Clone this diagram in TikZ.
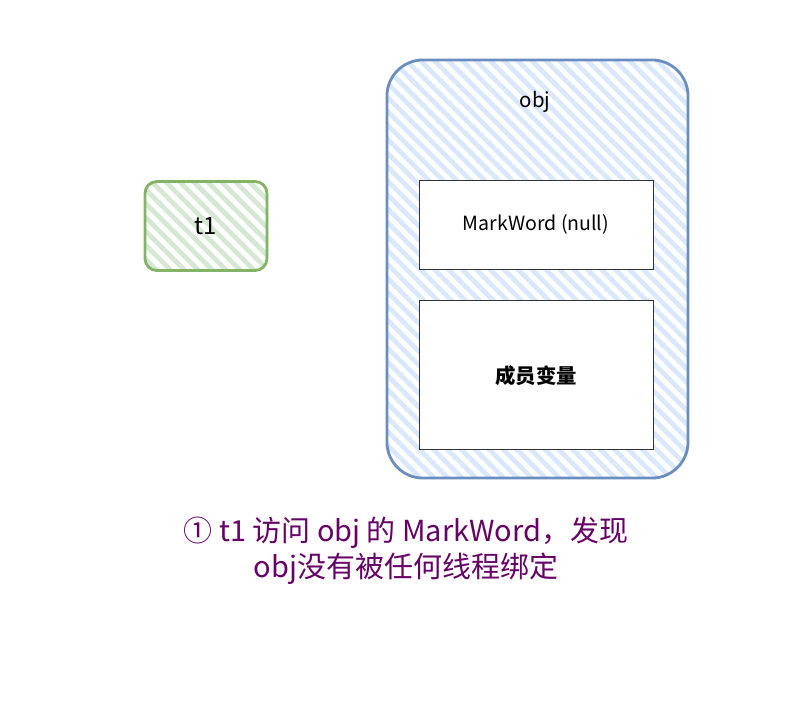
\documentclass[tikz,border=0pt]{standalone}
\usepackage{fontspec}
\setmainfont{Noto Sans CJK SC}
\usetikzlibrary{positioning,patterns.meta}

\definecolor{thgreen}{HTML}{82B366}
\definecolor{thgreenfill}{HTML}{D5E8D4}
\definecolor{objblue}{HTML}{6C8EBF}
\definecolor{objbluefill}{HTML}{DAE8FC}
\definecolor{notepurple}{HTML}{660066}

\begin{document}
\begin{tikzpicture}[
    x=0.025cm, y=-0.025cm,
    thread/.style={draw=thgreen, line width=2pt, rounded corners=0.3cm,
      pattern={Lines[angle=-45, distance=7pt, line width=3.4pt]}, pattern color=thgreenfill,
      minimum width=3.05cm, minimum height=2.225cm, font=\fontsize{17}{20}\selectfont},
    object/.style={draw=objblue, line width=2pt, rounded corners=0.9cm,
      pattern={Lines[angle=-45, distance=7pt, line width=3.4pt]}, pattern color=objbluefill,
      minimum width=7.525cm, minimum height=10.45cm},
    field/.style={draw=black!80, fill=white, line width=0.6pt, minimum width=5.85cm},
    note/.style={text=notepurple, align=center, font=\fontsize{20.6}{25.5}\selectfont}
  ]
    \useasboundingbox (0,0) rectangle (812,712);

    \node[thread] (t1) at (206,226) {t1};

    \node[object] (obj) at (537.5,269) {};
    \node[font=\fontsize{14.5}{17}\selectfont] (objname) at (535,102) {obj};

    \node[field, minimum height=2.225cm, font=\fontsize{13.9}{16}\selectfont] (mark) at (536,224.5) {\raisebox{-2pt}{MarkWord (null)}};
    \node[field, minimum height=3.725cm, font=\fontsize{14.5}{17}\selectfont\bfseries,
      below=0.775cm of mark] (members) {成员变量};

    \node[note] (step) at (406,551) {① t1 访问 obj 的 MarkWord，发现\\obj没有被任何线程绑定};
  \end{tikzpicture}
\end{document}
